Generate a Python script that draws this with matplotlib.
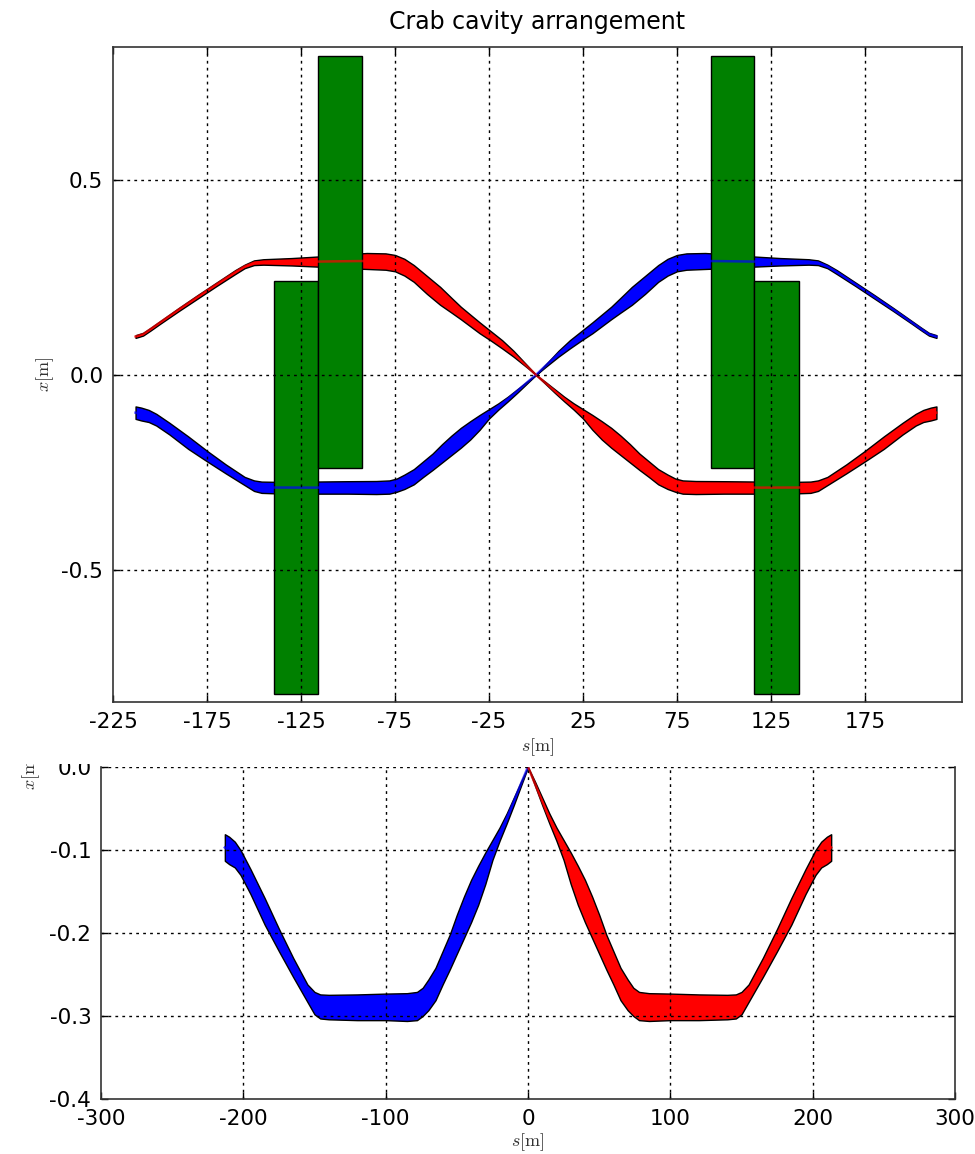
import numpy as np
import matplotlib
matplotlib.use("Agg")
import matplotlib.pyplot as plt
from matplotlib.transforms import Bbox

plt.rcParams['axes.unicode_minus'] = False
plt.rcParams['mathtext.fontset'] = 'cm'
plt.rcParams['font.family'] = 'DejaVu Sans'

# beam envelope (blue beam), incoming side towards the IP
s_in = [-213, -210, -206, -202, -195, -185, -175, -165, -155, -150, -146, -140,
        -120, -100, -85, -78, -74, -70, -65, -60, -55, -50, -45, -40, -35, -30,
        -25, -20, -15, -10, -5, 0]
x_in_hi = [-0.081, -0.084, -0.090, -0.100, -0.123, -0.158, -0.195, -0.230, -0.262,
           -0.271, -0.274, -0.2745, -0.274, -0.273, -0.2725, -0.271, -0.266, -0.256,
           -0.242, -0.222, -0.202, -0.178, -0.156, -0.136, -0.119, -0.103, -0.088,
           -0.073, -0.056, -0.037, -0.018, 0.0]
x_in_lo = [-0.113, -0.117, -0.121, -0.130, -0.153, -0.190, -0.222, -0.253, -0.283,
           -0.298, -0.303, -0.304, -0.305, -0.305, -0.306, -0.305, -0.300, -0.293,
           -0.281, -0.262, -0.244, -0.225, -0.206, -0.187, -0.166, -0.141, -0.112,
           -0.089, -0.068, -0.046, -0.023, 0.0]

# outgoing side, after the IP
s_out = [0, 5, 12, 18, 24, 30, 35, 40, 45, 51, 58, 65, 70, 75, 80, 90, 100, 116,
         130, 145, 150, 155, 160, 170, 180, 190, 200, 205, 209, 213]
x_out_hi = [0.0, 0.026, 0.062, 0.089, 0.112, 0.135, 0.155, 0.175, 0.198, 0.226,
            0.254, 0.282, 0.298, 0.308, 0.312, 0.313, 0.310, 0.304, 0.300, 0.297,
            0.294, 0.283, 0.269, 0.237, 0.205, 0.172, 0.138, 0.121, 0.108, 0.102]
x_out_lo = [0.0, 0.020, 0.047, 0.068, 0.088, 0.107, 0.125, 0.143, 0.160, 0.180,
            0.208, 0.239, 0.255, 0.266, 0.270, 0.272, 0.274, 0.278, 0.281, 0.283,
            0.282, 0.274, 0.259, 0.228, 0.196, 0.164, 0.131, 0.114, 0.101, 0.095]

# crab cavity blocks: s range and x range
cav_s0 = [-139.5, -116.0, 93.0, 116.0]
cav_s1 = [-116.0, -92.8, 116.0, 139.8]
cav_x0 = [-0.82, -0.24, -0.24, -0.82]
cav_x1 = [0.24, 0.82, 0.82, 0.24]

top_xticks = [-225, -175, -125, -75, -25, 25, 75, 125, 175]
top_yticks = [-0.5, 0.0, 0.5]
bot_xticks = [-300, -200, -100, 0, 100, 200, 300]
bot_yticks = [0.0, -0.1, -0.2, -0.3, -0.4]

s_in = np.array(s_in, float)
s_out = np.array(s_out, float)
blue_s = np.concatenate([s_in, s_out[1:]])
blue_hi = np.concatenate([x_in_hi, x_out_hi[1:]])
blue_lo = np.concatenate([x_in_lo, x_out_lo[1:]])
# the second beam runs the other way round
red_s = -blue_s


def draw_beam(ax, s, lo, hi, color):
    ax.fill_between(s, lo, hi, facecolor=color, edgecolor='k', linewidth=1.0)


def draw_axis_line(ax, s, lo, hi, color):
    ax.plot(s, (np.asarray(lo) + np.asarray(hi)) / 2.0, color=color, lw=1.8, alpha=0.7)


def style_axes(ax):
    ax.set_axisbelow(False)
    ax.grid(True, color='k', linestyle=(0, (2, 3)), linewidth=1.0)
    ax.tick_params(direction='in', top=True, right=True, length=5, width=1,
                   labelsize=15.5, pad=7)
    for sp in ax.spines.values():
        sp.set_color('#333333')
        sp.set_linewidth(1.2)
        sp.set_zorder(3)


fig = plt.figure(figsize=(9.75, 11.54), dpi=100)

# upper panel: both beams and the cavities
ax = fig.add_axes([113 / 975, 1 - 702 / 1154, 849 / 975, 655 / 1154])
draw_beam(ax, blue_s, blue_lo, blue_hi, 'b')
draw_beam(ax, red_s, blue_lo, blue_hi, 'r')
ax.bar(cav_s0, np.array(cav_x1) - np.array(cav_x0),
       width=np.array(cav_s1) - np.array(cav_s0), bottom=cav_x0, align='edge',
       color='green', edgecolor='k', linewidth=1.0)
draw_axis_line(ax, blue_s, blue_lo, blue_hi, 'b')
draw_axis_line(ax, red_s, blue_lo, blue_hi, 'r')
ax.set_xlim(-225, 226.6)
ax.set_ylim(-0.84, 0.842)
ax.set_xticks(top_xticks)
ax.set_yticks(top_yticks)
style_axes(ax)
ax.xaxis.get_major_ticks()[0].gridline.set_visible(False)
ax.set_title('Crab cavity arrangement', fontsize=17, pad=13)
ax.set_xlabel(r'$s[\mathrm{m}]$', fontsize=13, color='#333333', labelpad=3)
ax.set_ylabel(r'$x[\mathrm{m}]$', fontsize=13, color='#333333', labelpad=4)

# lower panel: incoming sides only
ax2 = fig.add_axes([101 / 975, 1 - 1099 / 1154, 854 / 975, 332 / 1154])
draw_beam(ax2, s_in, x_in_lo, x_in_hi, 'b')
draw_beam(ax2, -s_in, x_in_lo, x_in_hi, 'r')
draw_axis_line(ax2, s_in, x_in_lo, x_in_hi, 'b')
draw_axis_line(ax2, -s_in, x_in_lo, x_in_hi, 'r')
ax2.set_xlim(-300, 300)
ax2.set_ylim(-0.4, 0.0)
ax2.set_xticks(bot_xticks)
ax2.set_yticks(bot_yticks)
ax2.set_yticklabels(['%.1f' % v for v in bot_yticks])
style_axes(ax2)
xt = ax2.xaxis.get_major_ticks()
xt[0].gridline.set_visible(False)
xt[-1].gridline.set_visible(False)
ax2.yaxis.get_major_ticks()[-1].gridline.set_visible(False)
ax2.spines['top'].set_visible(False)
ax2.tick_params(top=False)
ax2.set_xlabel(r'$s[\mathrm{m}]$', fontsize=13, color='#333333', labelpad=2)
ax2.set_ylabel(r'$x[\mathrm{m}]$', fontsize=13, color='#333333')
ax2.yaxis.set_label_coords(-0.069, 0.985)

# the lower panel is cut off along its upper edge
cut = Bbox.from_extents(0, 0, 975, 1154 - 764)
for t in ax2.get_yticklabels() + [ax2.yaxis.label]:
    t.set_clip_box(cut)
    t.set_clip_on(True)

fig.savefig('out.png', dpi=100)
